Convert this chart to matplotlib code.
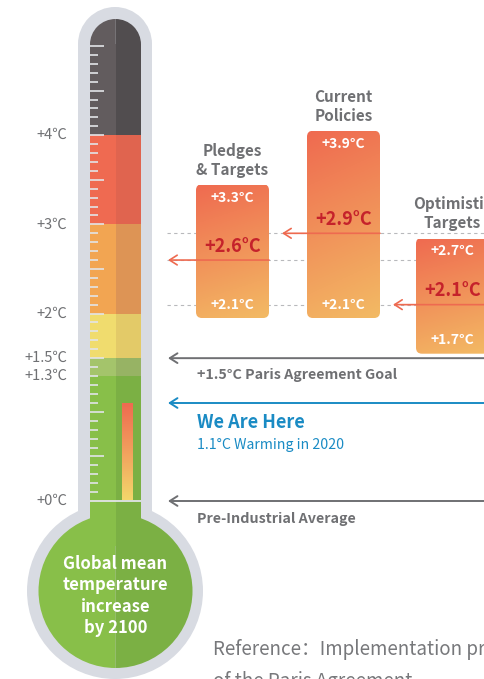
import numpy as np
import matplotlib
matplotlib.use("Agg")
import matplotlib.pyplot as plt
from matplotlib.patches import FancyBboxPatch, Rectangle, Wedge, Circle
from matplotlib.colors import to_rgb

plt.rcParams['font.family'] = ['Noto Sans CJK SC', 'DejaVu Sans']

# labels on the thermometer
tick_temps = [0, 1.3, 1.5, 2, 3, 4]
tick_labels = ['+0℃', '+1.3℃', '+1.5℃', '+2℃', '+3℃', '+4℃']

# colour bands of the tube (lower / upper edge in °C)
band_low = [-0.5, 1.3, 1.5, 2.0, 3.0, 4.0]
band_high = [1.3, 1.5, 2.0, 3.0, 4.0, 5.02]
band_light = ['#88bf49', '#a4c46b', '#f0dc6e', '#f2a552', '#ef6a51', '#625c5e']
band_dark = ['#7bb044', '#97b364', '#e3ca68', '#dd9455', '#e0644f', '#514d4f']

# warming scenarios for 2100
scenarios = ['Pledges\n& Targets', 'Current\nPolicies', 'Optimistic\nTargets']
scen_low = [2.1, 2.1, 1.7]
scen_mid = [2.6, 2.9, 2.1]
scen_high = [3.3, 3.9, 2.7]

paris_goal = 1.5
warming_2020 = 1.1
pre_industrial = 0.0

# the infographic scale is not quite linear (1.1 - 1.3 is stretched)
T_KNOTS = [-2.0, 0.0, 1.1, 1.3, 5.0, 5.52]
H_KNOTS = [0, 178, 276, 303, 633, 679]

def fwd(t):
    return np.interp(t, T_KNOTS, H_KNOTS)

def inv(h):
    return np.interp(h, H_KNOTS, T_KNOTS)

GRAY_TXT = '#6f7073'
TUBE_GRAY = '#d8dbe2'
TICK_COL = '#e2e4e8'
ARROW_RED = '#ee6a50'
BLUE = '#1a8bc4'

fig = plt.figure(figsize=(4.84, 6.79), dpi=100)

# background axes in pixel units for the glass shape
bg = fig.add_axes([0, 0, 1, 1])
bg.set_xlim(0, 484)
bg.set_ylim(679, 0)
bg.axis('off')

bg.add_patch(Rectangle((78, 44), 74, 520, color=TUBE_GRAY, lw=0))
bg.add_patch(Circle((115, 44), 37, color=TUBE_GRAY, lw=0))
bg.add_patch(Circle((115, 591), 88, color=TUBE_GRAY, lw=0))
bg.add_patch(Wedge((115.5, 591), 77, 90, 270, color=band_light[0], lw=0))
bg.add_patch(Wedge((115.5, 591), 77, -90, 90, color=band_dark[0], lw=0))
bg.add_patch(Wedge((115.5, 44.5), 25.5, 90, 270, color=band_light[-1], lw=0))
bg.add_patch(Wedge((115.5, 44.5), 25.5, -90, 90, color=band_dark[-1], lw=0))

# data axes in °C
ax = fig.add_axes([0, 0, 1, 1], zorder=1)
ax.patch.set_visible(False)
ax.axis('off')
ax.set_yscale('function', functions=(fwd, inv))

heights = np.subtract(band_high, band_low)
ax.bar(np.full(len(band_low), 90.0), heights, width=25.6, bottom=band_low,
       align='edge', color=band_light, lw=0)
ax.bar(np.full(len(band_low), 115.5), heights, width=25.5, bottom=band_low,
       align='edge', color=band_dark, lw=0)

# scale ticks on the glass
minor = np.r_[np.round(np.arange(0.1, 1.15, 0.1), 2),
              [1.1 + 0.2 / 3, 1.1 + 0.4 / 3],
              np.round(np.arange(1.3, 5.05, 0.1), 2)]
is_long = np.isclose(minor * 2, np.round(minor * 2))
ax.hlines(minor, 90, np.where(is_long, 104, 98), color=TICK_COL, lw=1.2)
ax.hlines(pre_industrial, 90, 141, color=TICK_COL, lw=1.3)

for t, lab in zip(tick_temps, tick_labels):
    ax.text(67, t, lab, ha='right', va='center', fontsize=10.5, color=GRAY_TXT)

# current warming bar inside the glass
grad = np.linspace(0, 1, 64)[:, None]
c_top, c_bot = np.array(to_rgb('#ef6a50')), np.array(to_rgb('#f3d66b'))
bar_img = c_top * (1 - grad[..., None]) + c_bot * grad[..., None]
ax.imshow(bar_img, extent=(122, 133, pre_industrial + 0.01, warming_2020),
          aspect='auto', origin='upper', zorder=3)

# dashed guide lines at the central estimates
ax.hlines(scen_mid, 167, 484, color='#b8b9bc', lw=0.8, linestyles=(0, (3, 3)), zorder=1)

# scenario boxes
centers = [232.5, 343.5, 452.5]
box_w = 73
pad = 0.15
g_top, g_bot = np.array(to_rgb('#ef6a50')), np.array(to_rgb('#f3ba64'))
vv, uu = np.mgrid[0:1:80j, 0:1:40j]
mix = np.clip(0.85 * vv + 0.15 * uu, 0, 1)[..., None]
box_img = g_top * (1 - mix) + g_bot * mix

for i, (name, lo, mid, hi) in enumerate(zip(scenarios, scen_low, scen_mid, scen_high)):
    cx = centers[i]
    x0 = cx - box_w / 2
    y0, y1 = lo - pad, hi + pad
    box = FancyBboxPatch((x0, y0), box_w, y1 - y0,
                         boxstyle='round,pad=0,rounding_size=6',
                         mutation_aspect=1 / 89.2, fc='none', ec='none', zorder=2)
    ax.add_patch(box)
    im = ax.imshow(box_img, extent=(x0, x0 + box_w, y0, y1), aspect='auto',
                   origin='upper', zorder=2)
    im.set_clip_path(box)

    ax.text(cx, hi, f'+{hi}°C', ha='center', va='center', color='white',
            fontsize=10, fontweight='bold', zorder=4)
    ax.text(cx, lo, f'+{lo}°C', ha='center', va='center', color='white',
            fontsize=10, fontweight='bold', zorder=4)
    ax.annotate(f'+{mid}°C', xy=(cx, mid), xytext=(0, 14), textcoords='offset pixels',
                ha='center', va='center', color='#c5222b', fontsize=13,
                fontweight='bold', zorder=4)
    ax.annotate(name, xy=(cx, y1), xytext=(0, 24), textcoords='offset pixels',
                ha='center', va='center', multialignment='center', linespacing=1.2,
                color=GRAY_TXT, fontsize=11, fontweight='bold')

    head = 168 if i == 0 else centers[i - 1] + box_w / 2 + 13
    tail = min(cx + box_w / 2, 486)
    ax.annotate('', xy=(head, mid), xytext=(tail, mid), zorder=3,
                arrowprops=dict(arrowstyle='->,head_length=0.55,head_width=0.35',
                                color=ARROW_RED, lw=1.2, shrinkA=0, shrinkB=0))

# reference lines
for t, col in [(paris_goal, GRAY_TXT), (warming_2020, BLUE), (pre_industrial, GRAY_TXT)]:
    ax.annotate('', xy=(168, t), xytext=(490, t),
                arrowprops=dict(arrowstyle='->,head_length=0.55,head_width=0.35',
                                color=col, lw=1.4, shrinkA=0, shrinkB=0))

ax.annotate(f'+{paris_goal}°C Paris Agreement Goal', xy=(197, paris_goal), xytext=(0, -17),
            textcoords='offset pixels', va='center', fontsize=10.3,
            fontweight='bold', color=GRAY_TXT)
ax.annotate('We Are Here', xy=(197, warming_2020), xytext=(0, -20),
            textcoords='offset pixels', va='center', fontsize=13,
            fontweight='bold', color=BLUE)
ax.annotate(f'{warming_2020}°C Warming in 2020', xy=(197, warming_2020), xytext=(0, -42),
            textcoords='offset pixels', va='center', fontsize=10.2, color=BLUE)
ax.annotate('Pre-Industrial Average', xy=(197, pre_industrial), xytext=(0, -18),
            textcoords='offset pixels', va='center', fontsize=10.3,
            fontweight='bold', color=GRAY_TXT)

ax.text(115.5, 596, 'Global mean\ntemperature\nincrease\nby 2100', transform=bg.transData,
        ha='center', va='center', multialignment='center', linespacing=1.22,
        color='white', fontsize=12, fontweight='bold', zorder=5)

ax.text(213, 649, 'Reference：Implementation progress', transform=bg.transData,
        ha='left', va='center', fontsize=13.5, color='#77787b')
ax.text(213, 681, 'of the Paris Agreement', transform=bg.transData,
        ha='left', va='center', fontsize=13.5, color='#77787b')

ax.set_xlim(0, 484)
ax.set_ylim(-2.0, 5.52)

fig.savefig('out.png', dpi=100)
